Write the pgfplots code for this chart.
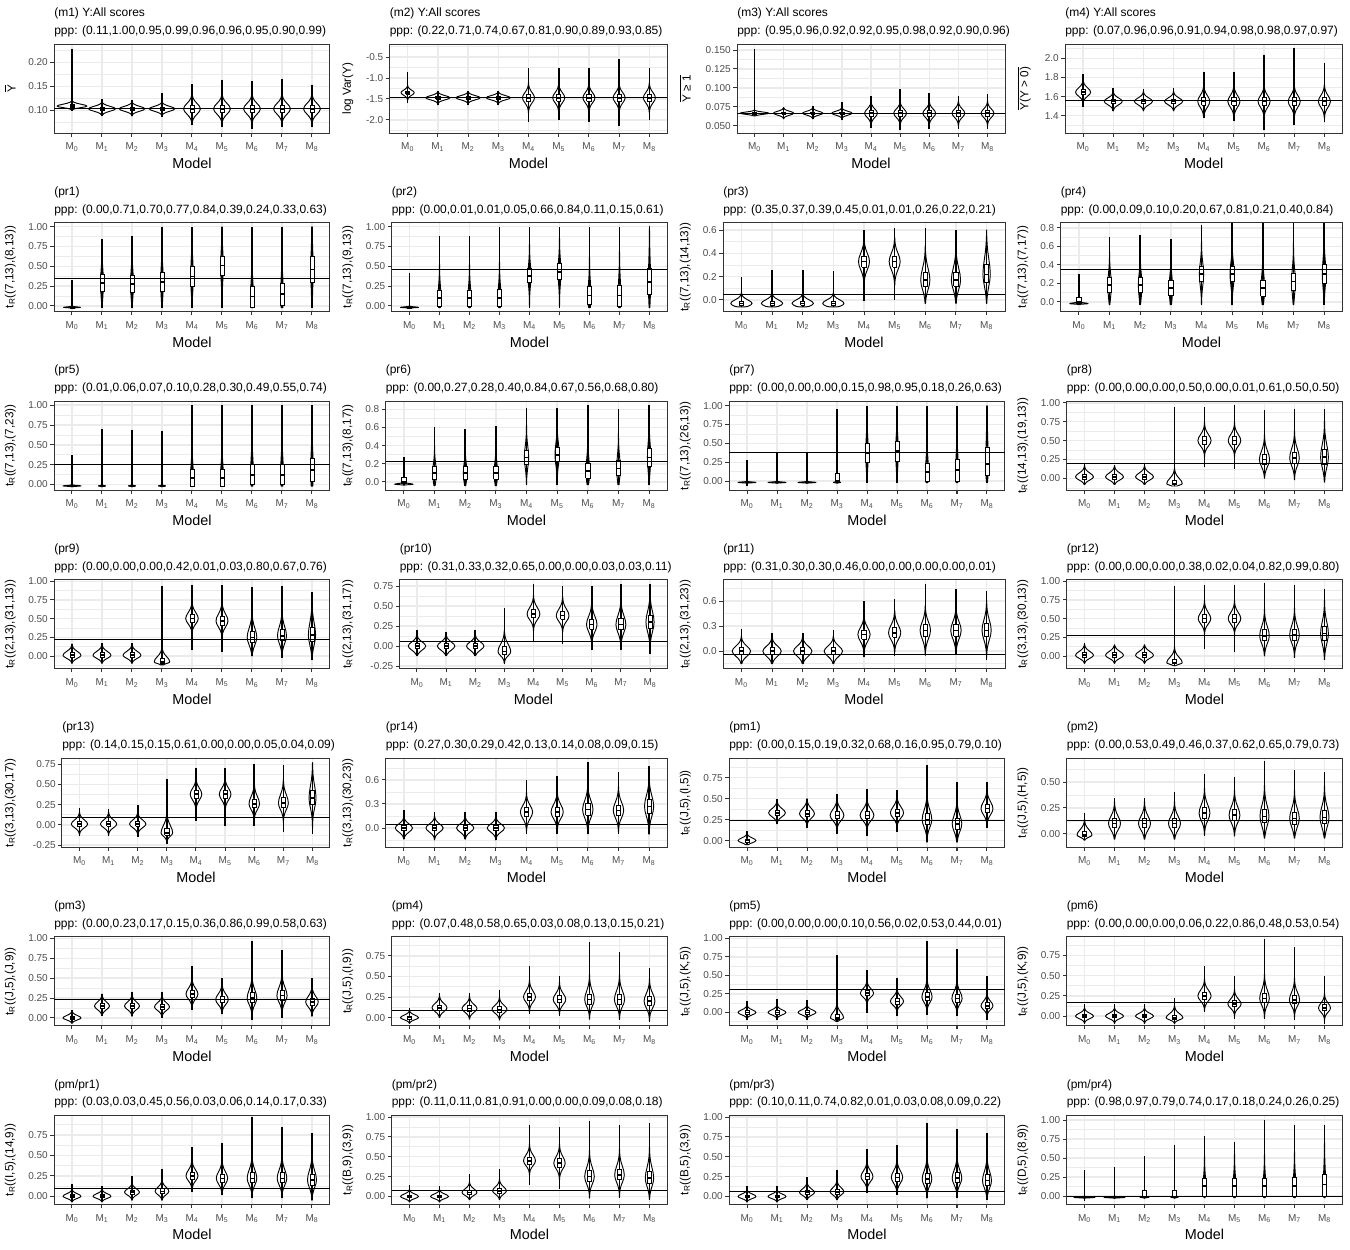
\documentclass[border=0pt]{standalone}
\usepackage{fontspec}
\setmainfont{Liberation Sans}
\usepackage{pgfplots}
\pgfplotsset{compat=1.18}

\definecolor{cA}{HTML}{333333}
\definecolor{cB}{HTML}{4D4D4D}
\definecolor{cG}{HTML}{EBEBEB}

\newcommand\ttlfont{\fontsize{9}{10.8}\selectfont}
\newcommand\ylabfont{\fontsize{8.8}{10.5}\selectfont}
\newcommand\tickfont{\fontsize{7.5}{9}\selectfont}
\newcommand\modelfont{\fontsize{10.8}{13}\selectfont}

% violin: [q1/med/q3]{x}{min}{max}{mode}{sd low}{sd high}{half width}
\def\vboxparse#1/#2/#3\relax{\def\qa{#1}\def\qm{#2}\def\qb{#3}}
\newcommand\vio[8][]{%
  \def\vx{#2}\def\vlo{#3}\def\vhi{#4}\def\vm{#5}\def\vsl{#6}\def\vsh{#7}\def\vw{#8}%
  \gdef\vpts{}%
  \foreach \z/\g in {3/0.0111,2.5/0.0439,2/0.1353,1.5/0.3247,1/0.6065,0.5/0.8825}{%
    \pgfmathsetmacro\yy{max(\vlo,\vm-\z*\vsl)}\pgfmathsetmacro\xx{\vx+\vw*\g}%
    \xdef\vpts{\vpts(\xx,\yy)}}%
  \pgfmathsetmacro\xx{\vx+\vw}\xdef\vpts{\vpts(\xx,\vm)}%
  \foreach \z/\g in {0.5/0.8825,1/0.6065,1.5/0.3247,2/0.1353,2.5/0.0439,3/0.0111}{%
    \pgfmathsetmacro\yy{min(\vhi,\vm+\z*\vsh)}\pgfmathsetmacro\xx{\vx+\vw*\g}%
    \xdef\vpts{\vpts(\xx,\yy)}}%
  \foreach \z/\g in {3/0.0111,2.5/0.0439,2/0.1353,1.5/0.3247,1/0.6065,0.5/0.8825}{%
    \pgfmathsetmacro\yy{min(\vhi,\vm+\z*\vsh)}\pgfmathsetmacro\xx{\vx-\vw*\g}%
    \xdef\vpts{\vpts(\xx,\yy)}}%
  \pgfmathsetmacro\xx{\vx-\vw}\xdef\vpts{\vpts(\xx,\vm)}%
  \foreach \z/\g in {0.5/0.8825,1/0.6065,1.5/0.3247,2/0.1353,2.5/0.0439,3/0.0111}{%
    \pgfmathsetmacro\yy{max(\vlo,\vm-\z*\vsl)}\pgfmathsetmacro\xx{\vx-\vw*\g}%
    \xdef\vpts{\vpts(\xx,\yy)}}%
  \pgfmathsetmacro\yy{max(\vlo,\vm-3*\vsl)}\pgfmathsetmacro\xx{\vx+\vw*0.0111}%
  \xdef\vpts{\vpts(\xx,\yy)}%
  \edef\vtmp{\noexpand\addplot[vbody] coordinates {\vpts};}\vtmp
  \edef\vtmp{\noexpand\addplot[vtail] coordinates {(\vx,\vlo)(\vx,\vhi)};}\vtmp
  \ifx\relax#1\relax
    \pgfmathsetmacro\qa{max(\vlo,\vm-0.674*\vsl)}%
    \pgfmathsetmacro\qb{min(\vhi,\vm+0.674*\vsh)}%
    \edef\qm{\vm}%
  \else\vboxparse#1\relax\fi
  \pgfmathsetmacro\bl{\vx-0.07}\pgfmathsetmacro\br{\vx+0.07}%
  \edef\vtmp{\noexpand\addplot[vbox] coordinates {(\bl,\qa)(\br,\qa)(\br,\qb)(\bl,\qb)(\bl,\qa)};}\vtmp
  \edef\vtmp{\noexpand\addplot[vmed] coordinates {(\bl,\qm)(\br,\qm)};}\vtmp
}
\newcommand\hl[1]{\addplot[black, line width=0.75pt] coordinates {(-0.6,#1)(8.6,#1)};}

% titles and y label of one panel: {col}{row}{left offset px}{title}{ppp}{ylabel}
\newcommand\ptext[6]{%
  \pgfmathsetmacro\tx{(#1*337.5+#3)*0.75}%
  \pgfmathsetmacro\tya{-(#2*178.5714+44-27.3)*0.75}%
  \pgfmathsetmacro\tyb{-(#2*178.5714+44-9.5)*0.75}%
  \pgfmathsetmacro\lx{(#1*337.5+4.5)*0.75}%
  \pgfmathsetmacro\ly{-(#2*178.5714+88.5)*0.75}%
  \node[anchor=base west, inner sep=0pt, font=\ttlfont] at (\tx pt,\tya pt) {#4};
  \node[anchor=base west, inner sep=0pt, font=\ttlfont] at (\tx pt,\tyb pt) {#5};
  \node[rotate=90, anchor=north, inner sep=0pt, font=\ylabfont] at (\lx pt,\ly pt) {#6};
}

\pgfplotsset{
  vbody/.style={draw=black, line width=0.7pt, fill=white, line join=round},
  vtail/.style={black, line width=1.2pt},
  vbox/.style={draw=black, fill=white, line width=0.55pt},
  vmed/.style={black, line width=1.2pt},
  panel/.code n args={3}{%
    \pgfmathsetmacro\pnx{(#1*337.5+#3)*0.75}%
    \pgfmathsetmacro\pny{-(#2*178.5714+44)*0.75}%
    \pgfmathsetmacro\pnw{(330-#3)*0.75}%
    \edef\pntmp{\noexpand\pgfkeysalso{at={(\pnx pt,\pny pt)}, anchor=north west, width=\pnw pt, height=66.75pt}}\pntmp
  },
  vp/.style={
    scale only axis,
    xmin=-0.6, xmax=8.6,
    xtick={0,...,8},
    xticklabels={M\textsubscript{0},M\textsubscript{1},M\textsubscript{2},M\textsubscript{3},M\textsubscript{4},M\textsubscript{5},M\textsubscript{6},M\textsubscript{7},M\textsubscript{8}},
    tick pos=left,
    tick align=outside,
    major tick length=2.7pt,
    minor tick length=0pt,
    xmajorgrids, ymajorgrids, yminorgrids,
    major grid style={draw=cG, line width=1.05pt},
    minor grid style={draw=cG, line width=0.5pt},
    axis line style={draw=cA, line width=0.75pt},
    tick style={draw=cA, line width=0.75pt},
    tick label style={font=\tickfont, text=cB},
    xticklabel style={anchor=base, yshift=-9.8pt},
    yticklabel style={anchor=east, inner sep=0pt, xshift=-1.8pt},
    xlabel={Model},
    xlabel style={font=\modelfont, at={(axis description cs:0.5,0)}, anchor=base, yshift=-26.6pt},
    no markers,
  },
  t100/.style={ytick={0,0.25,0.5,0.75,1}, yticklabels={0.00,0.25,0.50,0.75,1.00}, minor ytick={-0.125,0.125,0.375,0.625,0.875,1.125}},
  t075/.style={ytick={0,0.25,0.5,0.75}, yticklabels={0.00,0.25,0.50,0.75}, minor ytick={-0.125,0.125,0.375,0.625,0.875}},
  t050/.style={ytick={0,0.25,0.5}, yticklabels={0.00,0.25,0.50}, minor ytick={-0.125,0.125,0.375,0.625}},
  tneg/.style={ytick={-0.25,0,0.25,0.5,0.75}, yticklabels={-0.25,0.00,0.25,0.50,0.75}, minor ytick={-0.375,-0.125,0.125,0.375,0.625,0.875}},
  t08/.style={ytick={0,0.2,0.4,0.6,0.8}, yticklabels={0.0,0.2,0.4,0.6,0.8}, minor ytick={-0.1,0.1,0.3,0.5,0.7,0.9}},
  t06/.style={ytick={0,0.2,0.4,0.6}, yticklabels={0.0,0.2,0.4,0.6}, minor ytick={-0.1,0.1,0.3,0.5,0.7}},
  t03/.style={ytick={0,0.3,0.6}, yticklabels={0.0,0.3,0.6}, minor ytick={-0.15,0.15,0.45,0.75}},
}

\begin{document}
\begin{tikzpicture}
\path[use as bounding box] (0,0) rectangle (1012.5pt,-937.5pt);

% ---------------- row 1 ----------------
\begin{axis}[vp, panel={0}{0}{54}, ymin=0.053, ymax=0.2385,
  ytick={0.10,0.15,0.20}, yticklabels={0.10,0.15,0.20}, minor ytick={0.075,0.125,0.175,0.225}]
\vio{0}{0.099}{0.229}{0.109}{0.003}{0.004}{0.5}
\vio{1}{0.089}{0.124}{0.1035}{0.005}{0.005}{0.45}
\vio{2}{0.088}{0.121}{0.1035}{0.005}{0.005}{0.43}
\vio{3}{0.087}{0.137}{0.1035}{0.005}{0.005}{0.43}
\vio{4}{0.069}{0.155}{0.1035}{0.011}{0.011}{0.28}
\vio{5}{0.066}{0.163}{0.1035}{0.011}{0.011}{0.28}
\vio{6}{0.061}{0.162}{0.1035}{0.011}{0.011}{0.28}
\vio{7}{0.066}{0.166}{0.1035}{0.011}{0.011}{0.28}
\vio{8}{0.066}{0.154}{0.1035}{0.011}{0.011}{0.28}
\hl{0.1035}
\end{axis}
\ptext{0}{0}{54}{(m1) Y:All scores}{ppp: (0.11,1.00,0.95,0.99,0.96,0.96,0.95,0.90,0.99)}{$\overline{\mbox{Y}}$}

\begin{axis}[vp, panel={1}{0}{52}, ymin=-2.31, ymax=-0.19,
  ytick={-2,-1.5,-1,-0.5}, yticklabels={-2.0,-1.5,-1.0,-0.5}, minor ytick={-2.25,-1.75,-1.25,-0.75,-0.25}]
\vio{0}{-1.6}{-0.85}{-1.35}{0.06}{0.06}{0.22}
\vio{1}{-1.65}{-1.3}{-1.47}{0.05}{0.05}{0.4}
\vio{2}{-1.65}{-1.3}{-1.47}{0.05}{0.05}{0.4}
\vio{3}{-1.65}{-1.3}{-1.47}{0.05}{0.05}{0.4}
\vio{4}{-2.05}{-0.75}{-1.47}{0.12}{0.12}{0.2}
\vio{5}{-2.0}{-0.75}{-1.47}{0.12}{0.12}{0.2}
\vio{6}{-2.05}{-0.75}{-1.47}{0.12}{0.12}{0.2}
\vio{7}{-2.15}{-0.55}{-1.47}{0.12}{0.12}{0.2}
\vio{8}{-2.0}{-0.75}{-1.47}{0.12}{0.12}{0.2}
\hl{-1.47}
\end{axis}
\ptext{1}{0}{52}{(m2) Y:All scores}{ppp: (0.22,0.71,0.74,0.67,0.81,0.90,0.89,0.93,0.85)}{log Var(Y)}

\begin{axis}[vp, panel={2}{0}{62}, ymin=0.0403, ymax=0.158,
  ytick={0.05,0.075,0.1,0.125,0.15}, yticklabels={0.050,0.075,0.100,0.125,0.150},
  minor ytick={0.0375,0.0625,0.0875,0.1125,0.1375,0.1625}]
\vio{0}{0.063}{0.152}{0.0665}{0.0015}{0.0015}{0.5}
\vio{1}{0.059}{0.075}{0.0665}{0.0025}{0.0025}{0.35}
\vio{2}{0.059}{0.076}{0.0665}{0.0025}{0.0025}{0.35}
\vio{3}{0.057}{0.081}{0.0665}{0.0025}{0.0025}{0.35}
\vio{4}{0.047}{0.089}{0.0665}{0.0055}{0.0055}{0.22}
\vio{5}{0.044}{0.099}{0.0665}{0.0055}{0.0055}{0.22}
\vio{6}{0.045}{0.093}{0.0665}{0.0055}{0.0055}{0.22}
\vio{7}{0.046}{0.089}{0.0665}{0.0055}{0.0055}{0.22}
\vio{8}{0.046}{0.092}{0.0665}{0.0055}{0.0055}{0.22}
\hl{0.0667}
\end{axis}
\ptext{2}{0}{62}{(m3) Y:All scores}{ppp: (0.95,0.96,0.92,0.92,0.95,0.98,0.92,0.90,0.96)}{$\overline{\mbox{Y ≥ 1}}$}

\begin{axis}[vp, panel={3}{0}{52.5}, ymin=1.219, ymax=2.15,
  ytick={1.4,1.6,1.8,2.0}, yticklabels={1.4,1.6,1.8,2.0}, minor ytick={1.3,1.5,1.7,1.9,2.1}]
\vio{0}{1.49}{1.84}{1.645}{0.04}{0.045}{0.25}
\vio{1}{1.45}{1.69}{1.55}{0.035}{0.035}{0.3}
\vio{2}{1.45}{1.68}{1.55}{0.035}{0.035}{0.3}
\vio{3}{1.45}{1.69}{1.55}{0.035}{0.035}{0.3}
\vio{4}{1.38}{1.86}{1.55}{0.06}{0.06}{0.2}
\vio{5}{1.34}{1.86}{1.55}{0.06}{0.06}{0.2}
\vio{6}{1.25}{2.03}{1.55}{0.06}{0.06}{0.2}
\vio{7}{1.30}{2.11}{1.55}{0.06}{0.06}{0.2}
\vio{8}{1.33}{1.95}{1.55}{0.06}{0.06}{0.2}
\hl{1.555}
\end{axis}
\ptext{3}{0}{52.5}{(m4) Y:All scores}{ppp: (0.07,0.96,0.96,0.91,0.94,0.98,0.98,0.97,0.97)}{$\overline{\mbox{Y(Y > 0)}}$}

% ---------------- row 2 ----------------
\begin{axis}[vp, panel={0}{1}{54}, ymin=-0.071, ymax=1.051, t100]
\vio[-0.025/-0.018/-0.01]{0}{-0.03}{0.33}{-0.018}{0.004}{0.006}{0.28}
\vio{1}{-0.02}{0.85}{0.29}{0.16}{0.16}{0.05}
\vio{2}{-0.02}{0.88}{0.28}{0.16}{0.16}{0.05}
\vio{3}{-0.02}{1.0}{0.30}{0.18}{0.18}{0.045}
\vio{4}{-0.02}{1.0}{0.37}{0.18}{0.2}{0.045}
\vio{5}{-0.02}{1.0}{0.51}{0.19}{0.18}{0.045}
\vio{6}{-0.02}{1.0}{0.12}{0.2}{0.18}{0.05}
\vio{7}{-0.02}{1.0}{0.15}{0.22}{0.2}{0.045}
\vio{8}{-0.02}{1.0}{0.46}{0.25}{0.25}{0.04}
\hl{0.34}
\end{axis}
\ptext{0}{1}{54}{(pr1)}{ppp: (0.00,0.71,0.70,0.77,0.84,0.39,0.24,0.33,0.63)}{t\textsubscript{R}((7,13),(8,13))}

\begin{axis}[vp, panel={1}{1}{54}, ymin=-0.071, ymax=1.051, t100]
\vio[-0.025/-0.018/-0.01]{0}{-0.03}{0.42}{-0.018}{0.004}{0.006}{0.3}
\vio{1}{-0.02}{0.88}{0.1}{0.15}{0.15}{0.05}
\vio{2}{-0.02}{0.88}{0.1}{0.15}{0.15}{0.05}
\vio{3}{-0.02}{1.0}{0.1}{0.16}{0.16}{0.05}
\vio{4}{-0.02}{1.0}{0.38}{0.13}{0.14}{0.05}
\vio{5}{-0.02}{1.0}{0.43}{0.15}{0.15}{0.05}
\vio{6}{-0.02}{1.0}{0.13}{0.17}{0.17}{0.05}
\vio{7}{-0.02}{1.0}{0.13}{0.2}{0.2}{0.045}
\vio{8}{-0.02}{1.0}{0.3}{0.22}{0.25}{0.04}
\hl{0.46}
\end{axis}
\ptext{1}{1}{54}{(pr2)}{ppp: (0.00,0.01,0.01,0.05,0.66,0.84,0.11,0.15,0.61)}{t\textsubscript{R}((7,13),(9,13))}

\begin{axis}[vp, panel={2}{1}{48}, ymin=-0.1, ymax=0.664, t06]
\vio{0}{-0.06}{0.2}{-0.03}{0.025}{0.03}{0.35}
\vio{1}{-0.06}{0.26}{-0.03}{0.025}{0.03}{0.35}
\vio{2}{-0.06}{0.26}{-0.03}{0.025}{0.03}{0.35}
\vio{3}{-0.06}{0.25}{-0.03}{0.025}{0.03}{0.35}
\vio{4}{-0.01}{0.6}{0.33}{0.07}{0.07}{0.18}
\vio{5}{0.0}{0.62}{0.33}{0.07}{0.07}{0.18}
\vio{6}{-0.03}{0.62}{0.17}{0.08}{0.1}{0.15}
\vio{7}{-0.03}{0.6}{0.17}{0.08}{0.1}{0.15}
\vio{8}{-0.03}{0.6}{0.22}{0.1}{0.13}{0.12}
\hl{0.05}
\end{axis}
\ptext{2}{1}{48}{(pr3)}{ppp: (0.35,0.37,0.39,0.45,0.01,0.01,0.26,0.22,0.21)}{t\textsubscript{R}((7,13),(14,13))}

\begin{axis}[vp, panel={3}{1}{48}, ymin=-0.104, ymax=0.858, t08]
\vio[-0.02/0.0/0.05]{0}{-0.03}{0.3}{-0.018}{0.004}{0.008}{0.3}
\vio{1}{-0.03}{0.7}{0.18}{0.12}{0.12}{0.06}
\vio{2}{-0.03}{0.72}{0.18}{0.12}{0.12}{0.06}
\vio{3}{-0.03}{0.68}{0.15}{0.12}{0.12}{0.06}
\vio{4}{-0.03}{0.83}{0.3}{0.12}{0.12}{0.07}
\vio{5}{-0.03}{0.85}{0.3}{0.12}{0.12}{0.07}
\vio{6}{-0.03}{0.85}{0.15}{0.13}{0.13}{0.06}
\vio{7}{-0.03}{0.85}{0.22}{0.14}{0.14}{0.06}
\vio{8}{-0.03}{0.85}{0.3}{0.14}{0.15}{0.06}
\hl{0.35}
\end{axis}
\ptext{3}{1}{48}{(pr4)}{ppp: (0.00,0.09,0.10,0.20,0.67,0.81,0.21,0.40,0.84)}{t\textsubscript{R}((7,13),(7,17))}

% ---------------- row 3 ----------------
\begin{axis}[vp, panel={0}{2}{54}, ymin=-0.071, ymax=1.051, t100]
\vio{0}{-0.03}{0.37}{-0.018}{0.004}{0.006}{0.3}
\vio{1}{-0.03}{0.7}{-0.018}{0.004}{0.006}{0.12}
\vio{2}{-0.03}{0.69}{-0.018}{0.004}{0.006}{0.12}
\vio{3}{-0.03}{0.67}{-0.018}{0.004}{0.006}{0.12}
\vio{4}{-0.02}{1.0}{0.08}{0.15}{0.17}{0.05}
\vio{5}{-0.02}{1.0}{0.08}{0.15}{0.17}{0.05}
\vio{6}{-0.02}{1.0}{0.12}{0.17}{0.2}{0.05}
\vio{7}{-0.02}{1.0}{0.12}{0.17}{0.2}{0.05}
\vio{8}{-0.02}{1.0}{0.18}{0.2}{0.22}{0.045}
\hl{0.25}
\end{axis}
\ptext{0}{2}{54}{(pr5)}{ppp: (0.01,0.06,0.07,0.10,0.28,0.30,0.49,0.55,0.74)}{t\textsubscript{R}((7,13),(7,23))}

\begin{axis}[vp, panel={1}{2}{48}, ymin=-0.09, ymax=0.89, t08]
\vio[-0.02/0.0/0.05]{0}{-0.035}{0.28}{-0.025}{0.004}{0.008}{0.3}
\vio{1}{-0.04}{0.6}{0.1}{0.1}{0.1}{0.06}
\vio{2}{-0.04}{0.58}{0.1}{0.1}{0.1}{0.06}
\vio{3}{-0.04}{0.62}{0.1}{0.1}{0.1}{0.06}
\vio{4}{-0.03}{0.82}{0.27}{0.11}{0.12}{0.07}
\vio{5}{-0.03}{0.82}{0.3}{0.11}{0.12}{0.07}
\vio{6}{-0.03}{0.85}{0.12}{0.12}{0.13}{0.06}
\vio{7}{-0.03}{0.8}{0.15}{0.12}{0.13}{0.06}
\vio{8}{-0.03}{0.85}{0.27}{0.14}{0.15}{0.055}
\hl{0.23}
\end{axis}
\ptext{1}{2}{48}{(pr6)}{ppp: (0.00,0.27,0.28,0.40,0.84,0.67,0.56,0.68,0.80)}{t\textsubscript{R}((7,13),(8,17))}

\begin{axis}[vp, panel={2}{2}{54}, ymin=-0.12, ymax=1.06, t100]
\vio{0}{-0.06}{0.28}{-0.018}{0.004}{0.006}{0.3}
\vio{1}{-0.03}{0.37}{-0.018}{0.004}{0.006}{0.3}
\vio{2}{-0.03}{0.37}{-0.018}{0.004}{0.006}{0.3}
\vio[-0.02/0.0/0.1]{3}{-0.03}{0.95}{-0.018}{0.004}{0.008}{0.12}
\vio{4}{-0.02}{1.0}{0.37}{0.18}{0.19}{0.045}
\vio{5}{-0.02}{1.0}{0.40}{0.2}{0.18}{0.045}
\vio{6}{-0.02}{1.0}{0.12}{0.19}{0.18}{0.05}
\vio{7}{-0.02}{1.0}{0.15}{0.22}{0.2}{0.045}
\vio{8}{-0.02}{1.0}{0.23}{0.22}{0.33}{0.04}
\hl{0.383}
\end{axis}
\ptext{2}{2}{54}{(pr7)}{ppp: (0.00,0.00,0.00,0.15,0.98,0.95,0.18,0.26,0.63)}{t\textsubscript{R}((7,13),(26,13))}

\begin{axis}[vp, panel={3}{2}{54}, ymin=-0.155, ymax=1.023, t100]
\vio{0}{-0.08}{0.2}{0.02}{0.04}{0.05}{0.3}
\vio{1}{-0.08}{0.18}{0.02}{0.04}{0.05}{0.3}
\vio{2}{-0.08}{0.2}{0.02}{0.04}{0.05}{0.3}
\vio{3}{-0.1}{0.95}{-0.07}{0.02}{0.07}{0.26}
\vio{4}{0.15}{0.95}{0.5}{0.07}{0.08}{0.22}
\vio{5}{0.13}{0.97}{0.5}{0.07}{0.08}{0.21}
\vio{6}{0.0}{0.9}{0.25}{0.09}{0.11}{0.17}
\vio{7}{-0.02}{0.92}{0.27}{0.1}{0.12}{0.16}
\vio{8}{-0.05}{0.92}{0.28}{0.13}{0.16}{0.13}
\hl{0.2}
\end{axis}
\ptext{3}{2}{54}{(pr8)}{ppp: (0.00,0.00,0.00,0.50,0.00,0.01,0.61,0.50,0.50)}{t\textsubscript{R}((14,13),(19,13))}

% ---------------- row 4 ----------------
\begin{axis}[vp, panel={0}{3}{54}, ymin=-0.17, ymax=1.02, t100]
\vio{0}{-0.1}{0.16}{0.01}{0.04}{0.05}{0.3}
\vio{1}{-0.1}{0.18}{0.01}{0.04}{0.05}{0.3}
\vio{2}{-0.1}{0.17}{0.01}{0.04}{0.05}{0.3}
\vio{3}{-0.12}{0.93}{-0.08}{0.02}{0.07}{0.26}
\vio{4}{0.08}{0.95}{0.5}{0.07}{0.08}{0.21}
\vio{5}{0.05}{0.95}{0.47}{0.08}{0.09}{0.2}
\vio{6}{0.0}{0.92}{0.25}{0.1}{0.12}{0.16}
\vio{7}{-0.02}{0.93}{0.27}{0.1}{0.12}{0.15}
\vio{8}{-0.05}{0.85}{0.28}{0.13}{0.16}{0.12}
\hl{0.22}
\end{axis}
\ptext{0}{3}{54}{(pr9)}{ppp: (0.00,0.00,0.00,0.42,0.01,0.03,0.80,0.67,0.76)}{t\textsubscript{R}((2,13),(31,13))}

\begin{axis}[vp, panel={1}{3}{62}, ymin=-0.284, ymax=0.83, tneg]
\vio{0}{-0.12}{0.2}{0.0}{0.05}{0.05}{0.3}
\vio{1}{-0.12}{0.18}{0.0}{0.05}{0.05}{0.3}
\vio{2}{-0.12}{0.2}{0.0}{0.05}{0.05}{0.3}
\vio{3}{-0.22}{0.47}{-0.07}{0.05}{0.09}{0.22}
\vio{4}{0.05}{0.78}{0.4}{0.07}{0.08}{0.22}
\vio{5}{0.02}{0.75}{0.38}{0.07}{0.08}{0.22}
\vio{6}{-0.05}{0.75}{0.27}{0.09}{0.1}{0.18}
\vio{7}{-0.05}{0.78}{0.27}{0.1}{0.11}{0.17}
\vio{8}{-0.1}{0.78}{0.3}{0.12}{0.13}{0.14}
\hl{0.06}
\end{axis}
\ptext{1}{3}{62}{(pr10)}{ppp: (0.31,0.33,0.32,0.65,0.00,0.00,0.03,0.03,0.11)}{t\textsubscript{R}((2,13),(31,17))}

\begin{axis}[vp, panel={2}{3}{48}, ymin=-0.21, ymax=0.856, t03]
\vio{0}{-0.15}{0.27}{0.0}{0.06}{0.06}{0.3}
\vio{1}{-0.15}{0.22}{0.0}{0.06}{0.06}{0.3}
\vio{2}{-0.15}{0.22}{0.0}{0.06}{0.06}{0.3}
\vio{3}{-0.15}{0.25}{0.0}{0.06}{0.06}{0.3}
\vio{4}{-0.07}{0.6}{0.2}{0.08}{0.08}{0.2}
\vio{5}{-0.06}{0.62}{0.22}{0.08}{0.09}{0.2}
\vio{6}{-0.05}{0.8}{0.25}{0.1}{0.1}{0.17}
\vio{7}{-0.03}{0.75}{0.25}{0.1}{0.1}{0.17}
\vio{8}{-0.1}{0.72}{0.25}{0.11}{0.12}{0.15}
\hl{-0.04}
\end{axis}
\ptext{2}{3}{48}{(pr11)}{ppp: (0.31,0.30,0.30,0.46,0.00,0.00,0.00,0.00,0.01)}{t\textsubscript{R}((2,13),(31,23))}

\begin{axis}[vp, panel={3}{3}{54}, ymin=-0.17, ymax=1.02, t100]
\vio{0}{-0.1}{0.17}{0.01}{0.04}{0.05}{0.3}
\vio{1}{-0.1}{0.15}{0.01}{0.04}{0.05}{0.3}
\vio{2}{-0.1}{0.15}{0.01}{0.04}{0.05}{0.3}
\vio{3}{-0.13}{0.93}{-0.09}{0.02}{0.07}{0.26}
\vio{4}{0.1}{0.95}{0.5}{0.07}{0.08}{0.21}
\vio{5}{0.05}{0.95}{0.5}{0.07}{0.08}{0.21}
\vio{6}{0.0}{0.97}{0.27}{0.1}{0.12}{0.16}
\vio{7}{-0.02}{0.95}{0.28}{0.1}{0.12}{0.16}
\vio{8}{-0.05}{0.9}{0.3}{0.13}{0.15}{0.13}
\hl{0.27}
\end{axis}
\ptext{3}{3}{54}{(pr12)}{ppp: (0.00,0.00,0.00,0.38,0.02,0.04,0.82,0.99,0.80)}{t\textsubscript{R}((3,13),(30,13))}

% ---------------- row 5 ----------------
\begin{axis}[vp, panel={0}{4}{62}, ymin=-0.278, ymax=0.824, tneg]
\vio{0}{-0.14}{0.21}{0.01}{0.045}{0.05}{0.28}
\vio{1}{-0.14}{0.2}{0.01}{0.045}{0.05}{0.28}
\vio{2}{-0.15}{0.25}{0.01}{0.045}{0.05}{0.28}
\vio{3}{-0.24}{0.57}{-0.1}{0.04}{0.09}{0.2}
\vio{4}{0.05}{0.7}{0.38}{0.07}{0.07}{0.2}
\vio{5}{-0.02}{0.7}{0.38}{0.07}{0.07}{0.2}
\vio{6}{-0.02}{0.75}{0.26}{0.07}{0.09}{0.18}
\vio{7}{-0.09}{0.74}{0.27}{0.08}{0.1}{0.17}
\vio{8}{-0.11}{0.77}{0.33}{0.12}{0.15}{0.12}
\hl{0.087}
\end{axis}
\ptext{0}{4}{62}{(pr13)}{ppp: (0.14,0.15,0.15,0.61,0.00,0.00,0.05,0.04,0.09)}{t\textsubscript{R}((3,13),(30,17))}

\begin{axis}[vp, panel={1}{4}{48}, ymin=-0.241, ymax=0.871, t03]
\vio{0}{-0.14}{0.23}{0.0}{0.05}{0.05}{0.28}
\vio{1}{-0.15}{0.2}{0.0}{0.05}{0.05}{0.28}
\vio{2}{-0.14}{0.2}{0.0}{0.05}{0.05}{0.28}
\vio{3}{-0.15}{0.2}{0.0}{0.05}{0.05}{0.28}
\vio{4}{-0.07}{0.6}{0.2}{0.08}{0.08}{0.2}
\vio{5}{-0.08}{0.65}{0.2}{0.08}{0.09}{0.2}
\vio{6}{-0.08}{0.83}{0.23}{0.1}{0.11}{0.17}
\vio{7}{-0.07}{0.7}{0.22}{0.09}{0.1}{0.17}
\vio{8}{-0.08}{0.78}{0.27}{0.12}{0.13}{0.15}
\hl{0.05}
\end{axis}
\ptext{1}{4}{48}{(pr14)}{ppp: (0.27,0.30,0.29,0.42,0.13,0.14,0.08,0.09,0.15)}{t\textsubscript{R}((3,13),(30,23))}

\begin{axis}[vp, panel={2}{4}{54}, ymin=-0.08, ymax=0.98, t075]
\vio{0}{-0.05}{0.12}{0.0}{0.025}{0.03}{0.3}
\vio{1}{0.2}{0.5}{0.33}{0.045}{0.05}{0.28}
\vio{2}{0.15}{0.5}{0.32}{0.05}{0.06}{0.25}
\vio{3}{0.08}{0.55}{0.3}{0.06}{0.07}{0.23}
\vio{4}{0.05}{0.62}{0.3}{0.06}{0.07}{0.23}
\vio{5}{0.1}{0.6}{0.33}{0.06}{0.07}{0.22}
\vio{6}{-0.02}{0.9}{0.25}{0.09}{0.11}{0.16}
\vio{7}{-0.02}{0.7}{0.2}{0.09}{0.1}{0.16}
\vio{8}{0.15}{0.7}{0.38}{0.07}{0.08}{0.2}
\hl{0.24}
\end{axis}
\ptext{2}{4}{54}{(pm1)}{ppp: (0.00,0.15,0.19,0.32,0.68,0.16,0.95,0.79,0.10)}{t\textsubscript{R}((J,5),(I,5))}

\begin{axis}[vp, panel={3}{4}{54}, ymin=-0.128, ymax=0.728, t050]
\vio{0}{-0.06}{0.2}{-0.01}{0.02}{0.05}{0.25}
\vio{1}{-0.05}{0.35}{0.1}{0.06}{0.07}{0.2}
\vio{2}{-0.05}{0.35}{0.1}{0.06}{0.07}{0.2}
\vio{3}{-0.05}{0.4}{0.1}{0.06}{0.07}{0.2}
\vio{4}{-0.02}{0.58}{0.2}{0.07}{0.08}{0.18}
\vio{5}{-0.02}{0.55}{0.18}{0.07}{0.08}{0.18}
\vio{6}{-0.04}{0.7}{0.17}{0.09}{0.1}{0.15}
\vio{7}{-0.04}{0.62}{0.15}{0.08}{0.09}{0.16}
\vio{8}{-0.04}{0.6}{0.16}{0.09}{0.1}{0.15}
\hl{0.13}
\end{axis}
\ptext{3}{4}{54}{(pm2)}{ppp: (0.00,0.53,0.49,0.46,0.37,0.62,0.65,0.79,0.73)}{t\textsubscript{R}((J,5),(H,5))}

% ---------------- row 6 ----------------
\begin{axis}[vp, panel={0}{5}{54}, ymin=-0.1, ymax=1.02, t100]
\vio{0}{-0.07}{0.1}{0.0}{0.025}{0.03}{0.3}
\vio{1}{0.03}{0.3}{0.15}{0.045}{0.05}{0.25}
\vio{2}{0.02}{0.33}{0.15}{0.045}{0.05}{0.25}
\vio{3}{0.0}{0.33}{0.14}{0.045}{0.05}{0.25}
\vio{4}{0.1}{0.65}{0.3}{0.06}{0.07}{0.2}
\vio{5}{0.05}{0.5}{0.23}{0.06}{0.07}{0.21}
\vio{6}{-0.02}{0.97}{0.25}{0.08}{0.1}{0.16}
\vio{7}{0.0}{0.85}{0.28}{0.08}{0.1}{0.17}
\vio{8}{0.02}{0.5}{0.2}{0.06}{0.07}{0.21}
\hl{0.23}
\end{axis}
\ptext{0}{5}{54}{(pm3)}{ppp: (0.00,0.23,0.17,0.15,0.36,0.86,0.99,0.58,0.63)}{t\textsubscript{R}((J,5),(J,9))}

\begin{axis}[vp, panel={1}{5}{54}, ymin=-0.1, ymax=0.98, t075]
\vio{0}{-0.07}{0.12}{0.0}{0.025}{0.03}{0.3}
\vio{1}{0.0}{0.3}{0.12}{0.045}{0.05}{0.25}
\vio{2}{-0.02}{0.3}{0.11}{0.045}{0.05}{0.25}
\vio{3}{-0.03}{0.33}{0.1}{0.045}{0.05}{0.25}
\vio{4}{0.05}{0.63}{0.25}{0.06}{0.07}{0.2}
\vio{5}{0.02}{0.5}{0.22}{0.06}{0.07}{0.21}
\vio{6}{-0.02}{0.92}{0.22}{0.08}{0.1}{0.16}
\vio{7}{-0.03}{0.8}{0.22}{0.08}{0.1}{0.17}
\vio{8}{-0.05}{0.6}{0.2}{0.08}{0.09}{0.18}
\hl{0.09}
\end{axis}
\ptext{1}{5}{54}{(pm4)}{ppp: (0.07,0.48,0.58,0.65,0.03,0.08,0.13,0.15,0.21)}{t\textsubscript{R}((J,5),(I,9))}

\begin{axis}[vp, panel={2}{5}{54}, ymin=-0.18, ymax=1.02, t100]
\vio{0}{-0.1}{0.16}{0.0}{0.03}{0.035}{0.3}
\vio{1}{-0.1}{0.18}{0.0}{0.03}{0.035}{0.3}
\vio{2}{-0.1}{0.17}{0.0}{0.03}{0.035}{0.3}
\vio{3}{-0.12}{0.78}{-0.07}{0.025}{0.07}{0.22}
\vio{4}{0.0}{0.57}{0.26}{0.05}{0.06}{0.22}
\vio{5}{-0.05}{0.47}{0.15}{0.05}{0.06}{0.22}
\vio{6}{-0.03}{0.96}{0.21}{0.07}{0.09}{0.17}
\vio{7}{-0.05}{0.85}{0.19}{0.07}{0.09}{0.17}
\vio{8}{-0.1}{0.49}{0.09}{0.05}{0.06}{0.2}
\hl{0.31}
\end{axis}
\ptext{2}{5}{54}{(pm5)}{ppp: (0.00,0.00,0.00,0.10,0.56,0.02,0.53,0.44,0.01)}{t\textsubscript{R}((J,5),(K,5))}

\begin{axis}[vp, panel={3}{5}{54}, ymin=-0.12, ymax=0.98, t075]
\vio{0}{-0.1}{0.15}{0.0}{0.03}{0.035}{0.3}
\vio{1}{-0.1}{0.15}{0.0}{0.03}{0.035}{0.3}
\vio{2}{-0.1}{0.15}{0.0}{0.03}{0.035}{0.3}
\vio{3}{-0.1}{0.22}{-0.02}{0.025}{0.05}{0.28}
\vio{4}{0.05}{0.62}{0.25}{0.06}{0.07}{0.22}
\vio{5}{-0.03}{0.5}{0.15}{0.05}{0.06}{0.22}
\vio{6}{-0.03}{0.95}{0.22}{0.08}{0.1}{0.16}
\vio{7}{-0.05}{0.85}{0.2}{0.07}{0.09}{0.17}
\vio{8}{-0.1}{0.5}{0.1}{0.05}{0.06}{0.2}
\hl{0.17}
\end{axis}
\ptext{3}{5}{54}{(pm6)}{ppp: (0.00,0.00,0.00,0.06,0.22,0.86,0.48,0.53,0.54)}{t\textsubscript{R}((J,5),(K,9))}

% ---------------- row 7 ----------------
\begin{axis}[vp, panel={0}{6}{54}, ymin=-0.1, ymax=0.99, t075]
\vio{0}{-0.07}{0.15}{0.0}{0.025}{0.03}{0.3}
\vio{1}{-0.07}{0.13}{0.0}{0.025}{0.03}{0.3}
\vio{2}{-0.05}{0.25}{0.05}{0.035}{0.04}{0.25}
\vio{3}{-0.05}{0.33}{0.06}{0.04}{0.05}{0.23}
\vio{4}{0.05}{0.6}{0.25}{0.06}{0.07}{0.2}
\vio{5}{0.02}{0.65}{0.22}{0.07}{0.08}{0.19}
\vio{6}{-0.02}{0.97}{0.22}{0.08}{0.1}{0.16}
\vio{7}{-0.02}{0.85}{0.22}{0.08}{0.1}{0.16}
\vio{8}{-0.05}{0.78}{0.2}{0.09}{0.11}{0.15}
\hl{0.1}
\end{axis}
\ptext{0}{6}{54}{(pm/pr1)}{ppp: (0.03,0.03,0.45,0.56,0.03,0.06,0.14,0.17,0.33)}{t\textsubscript{R}((I,5),(14,9))}

\begin{axis}[vp, panel={1}{6}{54}, ymin=-0.1, ymax=1.02, t100]
\vio{0}{-0.07}{0.15}{0.0}{0.025}{0.03}{0.3}
\vio{1}{-0.07}{0.13}{0.0}{0.025}{0.03}{0.3}
\vio{2}{-0.04}{0.28}{0.05}{0.035}{0.045}{0.25}
\vio{3}{-0.04}{0.35}{0.07}{0.04}{0.05}{0.23}
\vio{4}{0.15}{0.9}{0.45}{0.06}{0.07}{0.2}
\vio{5}{0.1}{0.87}{0.42}{0.07}{0.08}{0.19}
\vio{6}{-0.02}{0.95}{0.25}{0.09}{0.11}{0.16}
\vio{7}{-0.02}{0.9}{0.27}{0.09}{0.11}{0.16}
\vio{8}{-0.04}{0.93}{0.23}{0.1}{0.13}{0.14}
\hl{0.08}
\end{axis}
\ptext{1}{6}{54}{(pm/pr2)}{ppp: (0.11,0.11,0.81,0.91,0.00,0.00,0.09,0.08,0.18)}{t\textsubscript{R}((B,9),(3,9))}

\begin{axis}[vp, panel={2}{6}{54}, ymin=-0.1, ymax=1.02, t100]
\vio{0}{-0.07}{0.13}{0.0}{0.025}{0.03}{0.3}
\vio{1}{-0.07}{0.13}{0.0}{0.025}{0.03}{0.3}
\vio{2}{-0.04}{0.25}{0.05}{0.035}{0.045}{0.25}
\vio{3}{-0.04}{0.33}{0.06}{0.04}{0.05}{0.23}
\vio{4}{0.05}{0.6}{0.25}{0.06}{0.07}{0.2}
\vio{5}{0.02}{0.65}{0.24}{0.07}{0.08}{0.19}
\vio{6}{-0.02}{0.92}{0.22}{0.08}{0.1}{0.16}
\vio{7}{-0.02}{0.85}{0.23}{0.08}{0.1}{0.16}
\vio{8}{-0.04}{0.8}{0.2}{0.09}{0.11}{0.15}
\hl{0.06}
\end{axis}
\ptext{2}{6}{54}{(pm/pr3)}{ppp: (0.10,0.11,0.74,0.82,0.01,0.03,0.08,0.09,0.22)}{t\textsubscript{R}((B,5),(3,9))}

\begin{axis}[vp, panel={3}{6}{54}, ymin=-0.11, ymax=1.06, t100]
\vio{0}{-0.06}{0.34}{-0.018}{0.004}{0.006}{0.35}
\vio{1}{-0.03}{0.38}{-0.018}{0.004}{0.006}{0.35}
\vio[-0.02/-0.01/0.07]{2}{-0.03}{0.53}{-0.015}{0.005}{0.008}{0.15}
\vio[-0.02/-0.01/0.08]{3}{-0.03}{0.67}{-0.015}{0.005}{0.008}{0.12}
\vio[0.0/0.13/0.23]{4}{-0.02}{0.79}{0.13}{0.14}{0.14}{0.045}
\vio[0.0/0.13/0.23]{5}{-0.02}{0.71}{0.13}{0.15}{0.15}{0.045}
\vio[0.0/0.13/0.23]{6}{-0.02}{1.0}{0.13}{0.15}{0.15}{0.045}
\vio[0.0/0.13/0.24]{7}{-0.02}{0.94}{0.13}{0.16}{0.16}{0.045}
\vio[0.0/0.15/0.29]{8}{-0.02}{0.93}{0.15}{0.18}{0.2}{0.04}
\hl{0.0}
\end{axis}
\ptext{3}{6}{54}{(pm/pr4)}{ppp: (0.98,0.97,0.79,0.74,0.17,0.18,0.24,0.26,0.25)}{t\textsubscript{R}((D,5),(8,9))}

\end{tikzpicture}
\end{document}
